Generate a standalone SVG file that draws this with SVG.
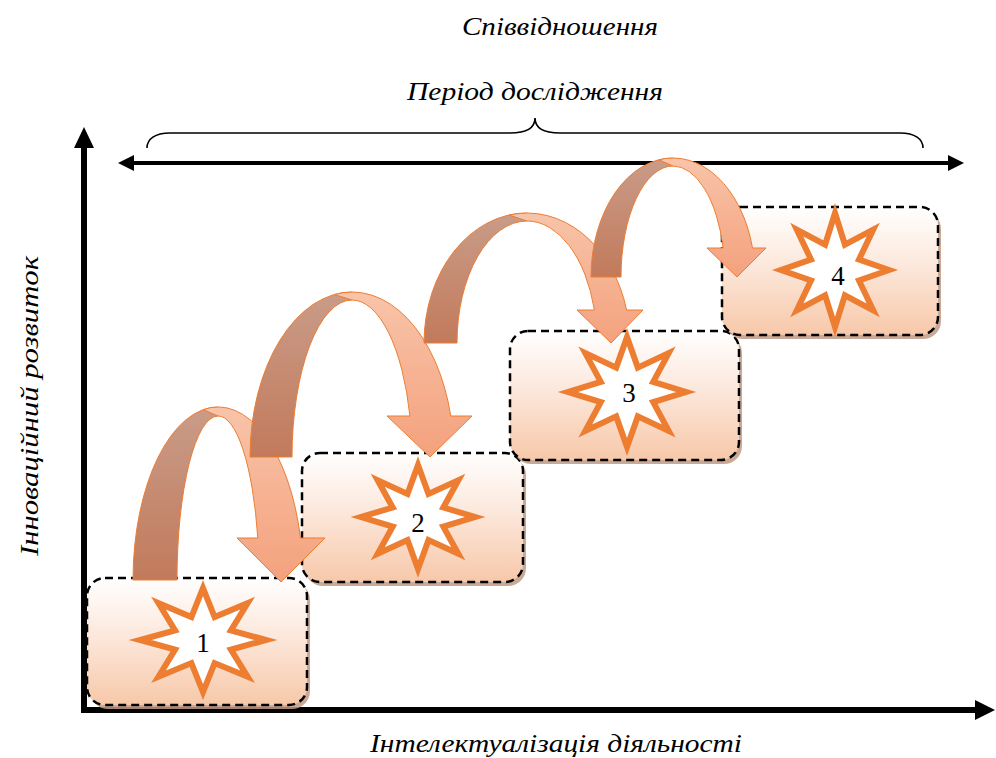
<svg xmlns="http://www.w3.org/2000/svg" width="996" height="758" viewBox="0 0 996 758">
<defs>
<linearGradient id="boxGrad" x1="0" y1="0" x2="0" y2="1">
<stop offset="0" stop-color="#FFFFFF"/>
<stop offset="0.45" stop-color="#FCE8DC"/>
<stop offset="1" stop-color="#F7C8A9"/>
</linearGradient>
<linearGradient id="darkGrad" x1="0" y1="0" x2="0" y2="1">
<stop offset="0" stop-color="#C99C89"/>
<stop offset="1" stop-color="#C27A5B"/>
</linearGradient>
<linearGradient id="lightGrad" x1="0" y1="0" x2="0" y2="1">
<stop offset="0" stop-color="#F8C4A9"/>
<stop offset="1" stop-color="#F4A17D"/>
</linearGradient>
</defs>
<style>
.lbl{font-family:"Liberation Serif","DejaVu Serif",serif;font-style:italic;font-size:25px;fill:#000;text-anchor:middle}
.num{font-family:"Liberation Serif","DejaVu Serif",serif;font-size:27px;fill:#000;text-anchor:middle}
.shadow{fill:#C19B85;opacity:0.85}
.box{fill:url(#boxGrad);stroke:#000;stroke-width:2.5;stroke-dasharray:8 5}
.star{fill:#FFFFFF;stroke:#ED7D31;stroke-width:6;stroke-linejoin:miter;stroke-miterlimit:10}
.dark{fill:url(#darkGrad);stroke:#ED7D31;stroke-width:1}
.light{fill:url(#lightGrad);stroke:#ED7D31;stroke-width:1}
.axis{stroke:#000;stroke-width:6;fill:none}
.head{fill:#000}
</style>

<g id="axes">
<line class="axis" x1="84" y1="145" x2="84" y2="713"/>
<polygon class="head" points="84,127 74,148 94,148"/>
<line class="axis" x1="81" y1="710" x2="977" y2="710"/>
<polygon class="head" points="995,710 975,700 975,720"/>
</g>

<g id="period">
<line x1="132" y1="163" x2="950" y2="163" stroke="#000" stroke-width="4"/>
<polygon class="head" points="118,163 134,155 134,171"/>
<polygon class="head" points="964,163 948,155 948,171"/>
<path d="M147,148 C147,139 155,133 170,133 L510,133 C526,133 535,128 535,118 C535,128 544,133 560,133 L900,133 C915,133 923,139 923,148" fill="none" stroke="#000" stroke-width="1.6"/>
</g>

<g id="labels">
<text class="lbl" x="560" y="35" textLength="196" lengthAdjust="spacingAndGlyphs">Співвідношення</text>
<text class="lbl" x="535" y="100" textLength="256" lengthAdjust="spacingAndGlyphs">Період дослідження</text>
<text class="lbl" x="556" y="752" textLength="372" lengthAdjust="spacingAndGlyphs">Інтелектуалізація діяльності</text>
<text class="lbl" transform="translate(38 406) rotate(-90)" x="0" y="0" textLength="300" lengthAdjust="spacingAndGlyphs">Інноваційний розвиток</text>
</g>

<g id="node1">
<rect class="shadow" x="90" y="582" width="220" height="127" rx="18"/>
<rect class="box" x="87" y="578" width="220" height="127" rx="18"/>
<polygon class="star" points="203,588 214.6,617 247.6,603.2 230.9,630.4 266,640 230.9,649.6 247.6,676.8 214.6,663.1 203,692 191.4,663.1 158.5,676.8 175.1,649.6 140,640 175.1,630.4 158.5,603.2 191.4,617"/>
<text class="num" x="203" y="652">1</text>
</g>

<g id="node2">
<rect class="shadow" x="305" y="457" width="221" height="129" rx="18"/>
<rect class="box" x="302" y="453" width="221" height="129" rx="18"/>
<polygon class="star" points="418,465 428.5,494 458.3,480.2 443.3,507.5 475,517 443.3,526.6 458.3,553.8 428.5,540.1 418,569 407.5,540.1 377.7,553.8 392.7,526.6 361,517 392.7,507.5 377.7,480.2 407.5,494"/>
<text class="num" x="418" y="532">2</text>
</g>

<g id="node3">
<rect class="shadow" x="513" y="335" width="229" height="129" rx="18"/>
<rect class="box" x="510" y="331" width="229" height="129" rx="18"/>
<polygon class="star" points="627,337 637.8,367.6 668.7,353.1 653.2,381.9 686,392 653.2,402.1 668.7,430.9 637.8,416.4 627,447 616.2,416.4 585.3,430.9 600.8,402.1 568,392 600.8,381.9 585.3,353.1 616.2,367.6"/>
<text class="num" x="629" y="402">3</text>
</g>

<g id="node4">
<rect class="shadow" x="725" y="211" width="216" height="128" rx="18"/>
<rect class="box" x="722" y="207" width="216" height="128" rx="18"/>
<polygon class="star" points="835,213 844.9,244.7 873.2,229.7 859,259.5 889,270 859,280.5 873.2,310.3 844.9,295.3 835,327 825.1,295.3 796.8,310.3 811,280.5 781,270 811,259.5 796.8,229.7 825.1,244.7"/>
<text class="num" x="838" y="285">4</text>
</g>

<g id="connectors">
<g id="arrow1">
<path class="dark" d="M133,580 A85,173 0 0 1 218,407 L218,416 A41,164 0 0 0 177,580 Z"/>
<path class="light" d="M203.2,409.6 A85,173 0 0 1 300.5,538 L325,538 L281,582 L237,538 L257.8,538 A41,164 0 0 0 218,416 Z"/>
</g>
<g id="arrow2">
<path class="dark" d="M250,457 A102,165 0 0 1 352,292 L352,300 A60,157 0 0 0 292,457 Z"/>
<path class="light" d="M334.3,294.5 A102,165 0 0 1 450.8,416 L472,416 L430,457 L387,416 L409.9,416 A60,157 0 0 0 352,300 Z"/>
</g>
<g id="arrow3">
<path class="dark" d="M424,343 A103,130 0 0 1 527,213 L527,221 A70,122 0 0 0 457,343 Z"/>
<path class="light" d="M509.1,215 A103,130 0 0 1 626.6,310 L643,310 L611,343 L577,310 L594.4,310 A70,122 0 0 0 527,221 Z"/>
</g>
<g id="arrow4">
<path class="dark" d="M591,277 A82,119 0 0 1 673,158 L673,166 A52,111 0 0 0 621,277 Z"/>
<path class="light" d="M658.8,159.8 A82,119 0 0 1 752.5,248 L766,248 L737,277 L707,248 L723.2,248 A52,111 0 0 0 673,166 Z"/>
</g>
</g>
</svg>
